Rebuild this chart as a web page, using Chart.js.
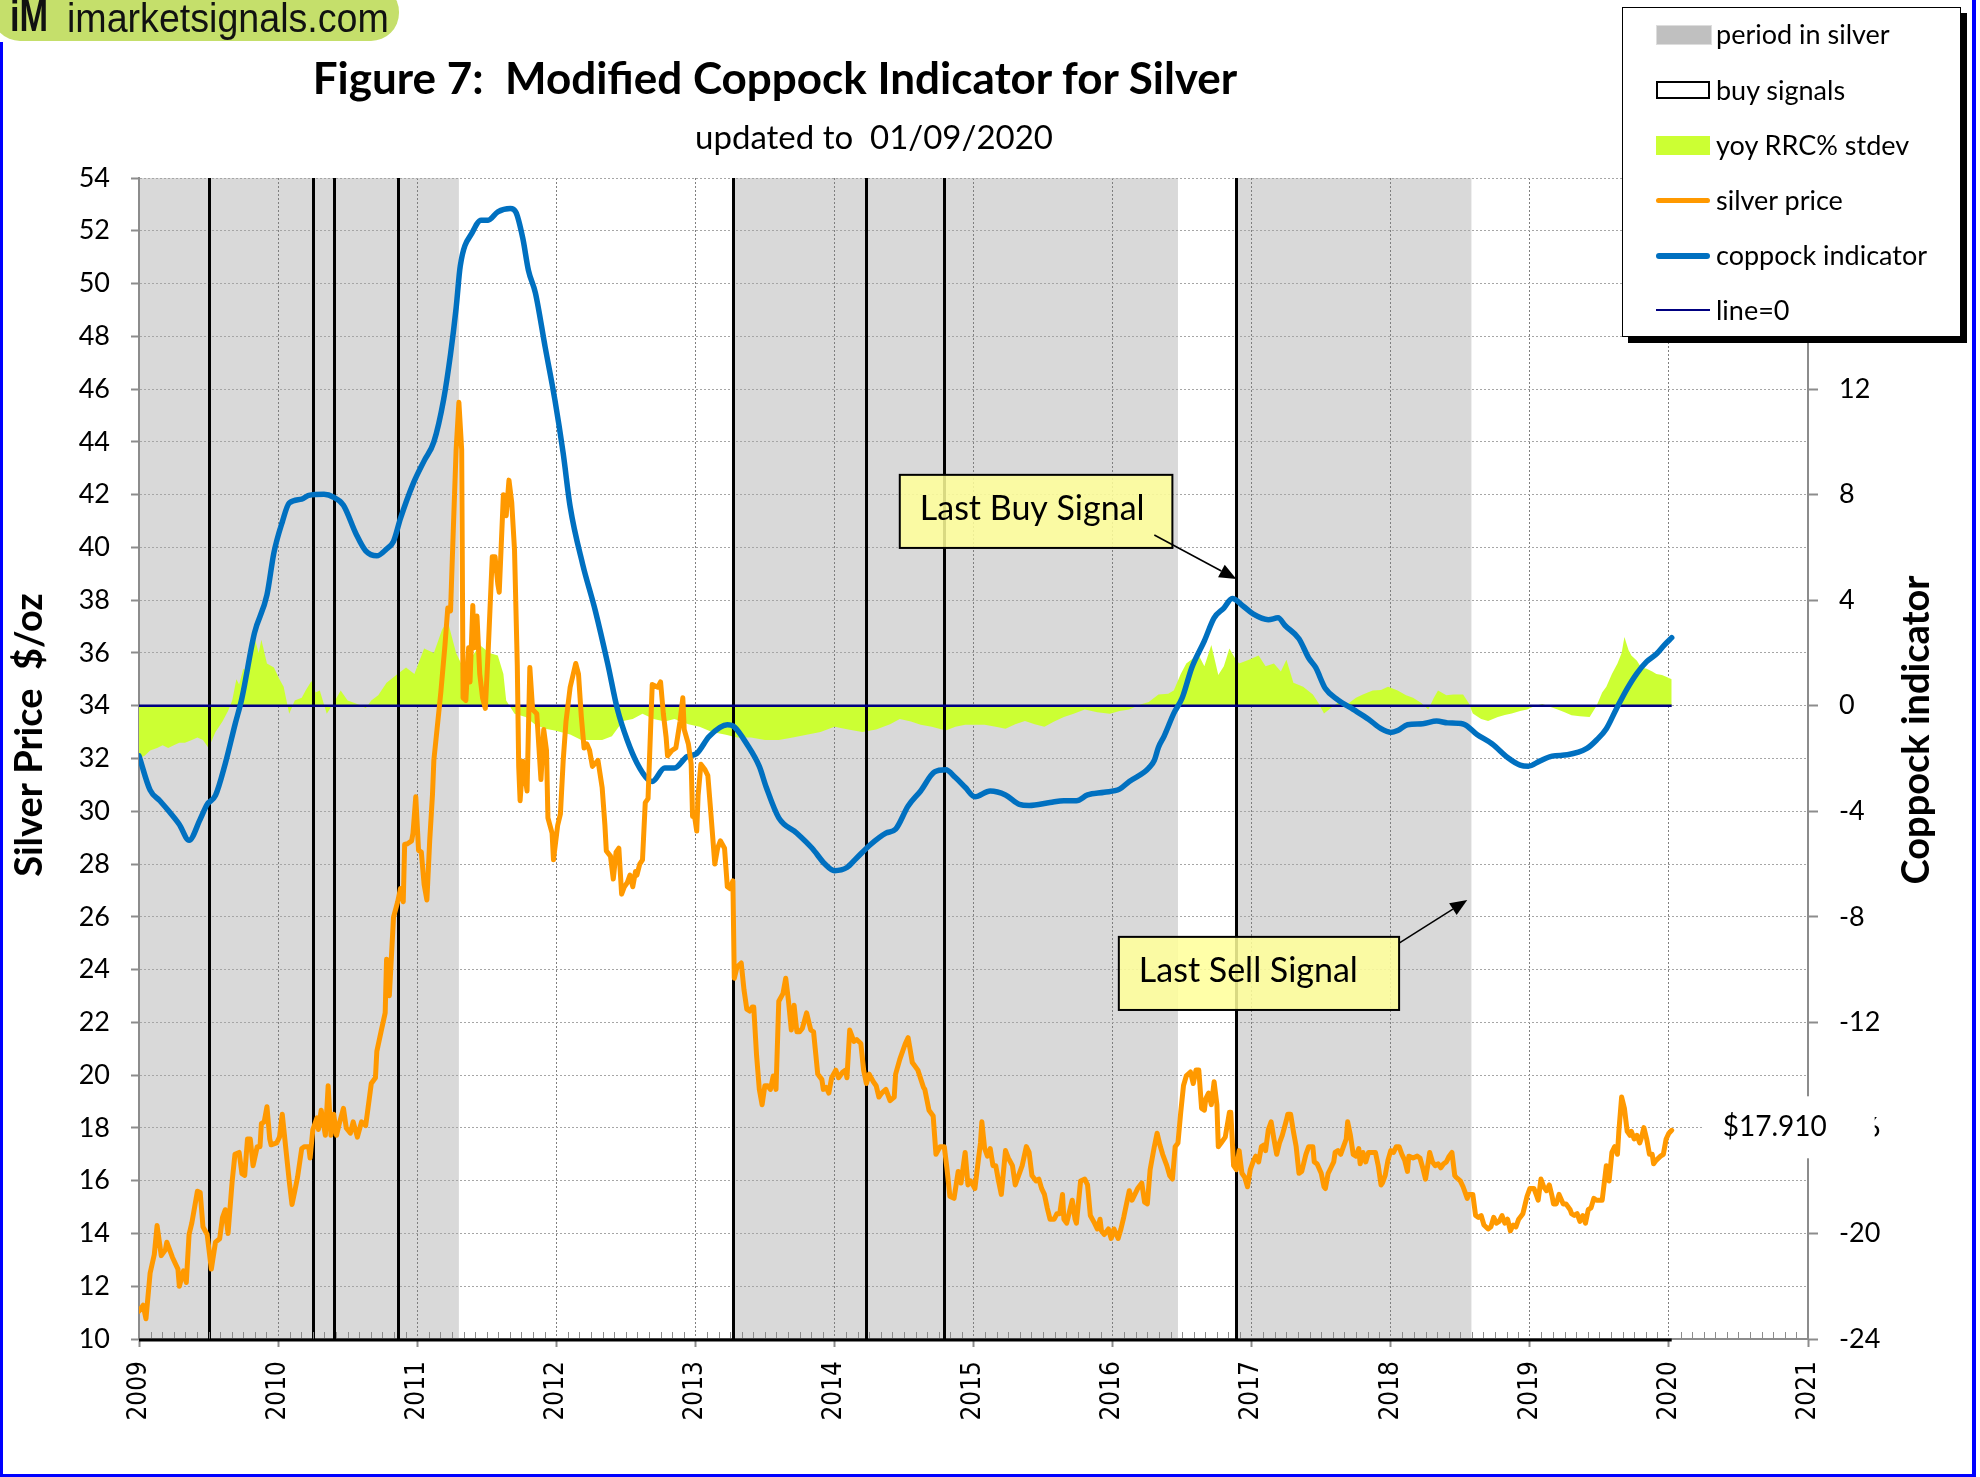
<!DOCTYPE html>
<html>
<head>
<meta charset="utf-8">
<title>Modified Coppock Indicator for Silver</title>
<script src="https://cdn.jsdelivr.net/npm/chart.js@4.4.1/dist/chart.umd.min.js"></script>
<style>
  body { margin: 0; background: #fff; }
  #wrap { position: relative; width: 1980px; height: 1477px; overflow: hidden; font-family: Lato, "Open Sans", sans-serif; }
  #c { position: absolute; left: 0; top: 0; }
  .edge { position: absolute; background: #0000ff; }
  #logo { position: absolute; left: -8px; top: -16px; width: 407px; height: 57px; border-radius: 28px; background: #c5df6b; }
  #logo span { position: absolute; top: 14px; line-height: 40px; font-size: 40px; font-family: "Liberation Sans", Arial, sans-serif; color: #111; transform-origin: left center; white-space: nowrap; }
  #title { position: absolute; left: 0; width: 1550px; top: 51px; text-align: center; font: bold 44px Lato, sans-serif; line-height: 1.2; white-space: pre; }
  #subtitle { position: absolute; left: 0; width: 1748px; top: 117px; text-align: center; font: 33px Lato, sans-serif; line-height: 1.2; white-space: pre; }
  #legend { position: absolute; left: 1622px; top: 7px; width: 337px; height: 328px; background: #fff; border: 1.5px solid #000; box-shadow: 6px 6px 0 #000; }
  #legend .item { position: absolute; left: 93px; height: 30px; line-height: 30px; font-size: 27px; white-space: nowrap; }
  #legend .sw { position: absolute; left: 33px; width: 54px; }
</style>
</head>
<body>
<div id="wrap">
  <canvas id="c" width="1980" height="1477"></canvas>
  <div id="logo"><span style="left:18px;top:12px;font-size:44px;font-weight:bold;transform:scaleX(0.78)">iM</span><span style="left:75px;transform:scaleX(0.94)">imarketsignals.com</span></div>
  <div id="title">Figure 7:  Modified Coppock Indicator for Silver</div>
  <div id="subtitle">updated to  01/09/2020</div>
  <div id="legend">
    <div class="sw" style="top:17px;height:18px;background:#c0c0c0;border:1px solid #ddd;"></div>
    <div class="item" style="top:11px">period in silver</div>
    <div class="sw" style="top:73px;height:14px;border:2px solid #000;width:50px;"></div>
    <div class="item" style="top:67px">buy signals</div>
    <div class="sw" style="top:128px;height:19px;background:#ccff33;"></div>
    <div class="item" style="top:122px">yoy RRC% stdev</div>
    <div class="sw" style="top:190px;height:5px;background:#ff9900;border-radius:3px;"></div>
    <div class="item" style="top:177px">silver price</div>
    <div class="sw" style="top:245px;height:6px;background:#0070c0;border-radius:3px;"></div>
    <div class="item" style="top:232px">coppock indicator</div>
    <div class="sw" style="top:301px;height:2px;background:#000080;"></div>
    <div class="item" style="top:287px">line=0</div>
  </div>
  <div class="edge" style="left:0;top:42px;width:3px;height:1435px"></div>
  <div class="edge" style="left:1972px;top:0;width:4px;height:1477px"></div>
  <div class="edge" style="left:0;top:1474px;width:1976px;height:3px"></div>
</div>
<script>
// shaded "period in silver" spans and buy signal dates (decimal years)
const silverPeriods = [[2009.00, 2011.30], [2013.27, 2016.47], [2016.89, 2018.58]];
const buySignals = [2009.50, 2010.25, 2010.40, 2010.86, 2013.27, 2014.23, 2014.79, 2016.89];

// silver price, $/oz  [year, price]
const silverPrice = [
  [2009.00,11.06],[2009.03,11.28],[2009.05,10.77],[2009.08,12.5],[2009.11,13.2],[2009.13,14.3],[2009.16,13.16],[2009.19,13.38],
  [2009.20,13.67],[2009.24,13.1],[2009.28,12.65],[2009.29,12.0],[2009.32,12.58],[2009.34,12.14],[2009.36,13.96],[2009.38,14.4],
  [2009.42,15.6],[2009.44,15.55],[2009.46,14.25],[2009.49,13.96],[2009.52,12.65],[2009.55,13.67],[2009.58,13.8],[2009.60,14.6],
  [2009.62,14.9],[2009.64,14.0],[2009.67,15.99],[2009.69,17.0],[2009.72,17.07],[2009.74,16.27],[2009.76,16.2],[2009.78,17.58],
  [2009.80,17.58],[2009.82,16.57],[2009.85,17.29],[2009.87,17.29],[2009.88,18.16],[2009.90,18.23],[2009.92,18.8],[2009.94,17.58],
  [2009.95,17.36],[2009.99,17.43],[2010.01,17.65],[2010.03,18.52],[2010.06,17.0],[2010.08,15.99],[2010.10,15.1],[2010.12,15.6],
  [2010.14,16.13],[2010.17,17.22],[2010.19,17.29],[2010.22,17.29],[2010.23,16.86],[2010.25,17.94],[2010.28,18.38],[2010.29,17.94],
  [2010.31,18.67],[2010.34,17.72],[2010.36,19.6],[2010.38,17.72],[2010.40,18.52],[2010.42,17.72],[2010.44,18.16],[2010.47,18.74],
  [2010.49,18.0],[2010.52,17.8],[2010.54,18.23],[2010.57,17.65],[2010.60,18.23],[2010.63,18.09],[2010.65,18.88],[2010.67,19.68],
  [2010.70,19.9],[2010.71,20.9],[2010.74,21.64],[2010.77,22.36],[2010.78,24.39],[2010.80,23.01],[2010.83,25.99],[2010.86,26.57],
  [2010.88,27.07],[2010.90,26.57],[2010.91,28.74],[2010.93,28.77],[2010.96,28.88],[2010.97,29.17],[2010.99,30.55],[2011.01,28.52],
  [2011.03,28.45],[2011.05,27.22],[2011.07,26.64],[2011.09,28.88],[2011.11,30.62],[2011.12,31.93],[2011.17,34.5],[2011.20,36.3],
  [2011.22,37.7],[2011.24,37.6],[2011.26,40.7],[2011.28,43.7],[2011.30,45.5],[2011.32,43.7],[2011.33,34.3],[2011.35,34.2],
  [2011.37,36.2],[2011.38,34.9],[2011.40,37.8],[2011.41,36.2],[2011.43,37.4],[2011.45,35.2],[2011.47,34.3],[2011.49,33.9],
  [2011.51,36.0],[2011.54,39.65],[2011.56,39.65],[2011.58,38.6],[2011.59,38.3],[2011.62,42.0],[2011.64,41.2],[2011.66,42.55],
  [2011.68,41.7],[2011.70,39.9],[2011.72,35.5],[2011.73,31.7],[2011.74,30.4],[2011.76,31.9],[2011.79,30.77],[2011.81,35.45],
  [2011.83,33.86],[2011.86,33.7],[2011.89,31.2],[2011.91,33.1],[2011.93,32.3],[2011.94,29.75],[2011.97,29.17],[2011.98,28.16],
  [2012.01,29.46],[2012.03,29.9],[2012.05,31.93],[2012.07,33.4],[2012.10,34.7],[2012.14,35.6],[2012.16,35.2],[2012.18,33.6],
  [2012.20,32.4],[2012.22,32.55],[2012.24,32.3],[2012.26,31.7],[2012.30,31.93],[2012.33,30.9],[2012.35,29.46],[2012.36,28.5],
  [2012.39,28.3],[2012.41,27.43],[2012.43,28.45],[2012.45,28.6],[2012.47,26.86],[2012.49,27.14],[2012.51,27.29],[2012.53,27.58],
  [2012.55,27.14],[2012.57,27.72],[2012.58,27.58],[2012.60,28.0],[2012.62,28.16],[2012.64,30.33],[2012.66,30.48],[2012.69,34.8],
  [2012.73,34.7],[2012.75,34.9],[2012.77,33.7],[2012.79,32.8],[2012.80,32.1],[2012.83,32.3],[2012.86,32.4],[2012.89,33.4],
  [2012.91,34.3],[2012.92,33.1],[2012.95,32.55],[2012.97,31.8],[2012.98,29.8],[2012.99,29.97],[2013.01,29.25],[2013.02,30.6],
  [2013.04,31.78],[2013.07,31.57],[2013.09,31.35],[2013.11,30.04],[2013.14,28.0],[2013.16,28.6],[2013.18,28.88],[2013.21,28.6],
  [2013.23,27.14],[2013.25,27.07],[2013.27,27.36],[2013.28,23.67],[2013.30,24.1],[2013.33,24.25],[2013.35,23.23],[2013.37,22.5],
  [2013.39,22.43],[2013.41,22.58],[2013.42,22.58],[2013.44,20.77],[2013.46,19.46],[2013.48,18.88],[2013.50,19.6],[2013.52,19.6],
  [2013.54,19.46],[2013.56,19.97],[2013.58,19.46],[2013.60,22.8],[2013.63,23.09],[2013.65,23.67],[2013.67,22.8],[2013.69,21.71],
  [2013.71,22.65],[2013.73,21.64],[2013.75,21.64],[2013.77,21.78],[2013.80,22.36],[2013.83,21.71],[2013.85,21.64],[2013.88,20.04],
  [2013.91,19.83],[2013.92,19.46],[2013.94,19.54],[2013.96,19.32],[2013.98,19.9],[2014.01,20.19],[2014.03,19.9],[2014.06,20.12],
  [2014.08,20.19],[2014.09,19.9],[2014.11,21.71],[2014.14,21.28],[2014.16,21.35],[2014.19,21.2],[2014.21,20.19],[2014.23,19.68],
  [2014.25,20.04],[2014.28,19.75],[2014.30,19.6],[2014.32,19.17],[2014.34,19.32],[2014.37,19.46],[2014.40,19.03],[2014.43,19.17],
  [2014.44,20.04],[2014.47,20.6],[2014.51,21.2],[2014.53,21.42],[2014.56,20.48],[2014.60,20.19],[2014.64,19.54],[2014.65,19.46],
  [2014.68,18.67],[2014.71,18.45],[2014.73,17.0],[2014.76,17.29],[2014.79,17.29],[2014.81,16.42],[2014.83,15.41],[2014.86,15.33],
  [2014.89,16.35],[2014.91,15.91],[2014.94,17.07],[2014.96,15.84],[2014.98,15.99],[2015.01,15.7],[2015.03,16.57],[2015.05,17.43],
  [2015.06,18.23],[2015.08,17.22],[2015.10,16.93],[2015.12,17.22],[2015.14,16.57],[2015.16,16.57],[2015.18,15.99],[2015.20,15.48],
  [2015.23,17.14],[2015.25,16.86],[2015.28,16.57],[2015.30,15.84],[2015.33,16.28],[2015.35,16.57],[2015.38,17.29],[2015.40,17.07],
  [2015.42,16.2],[2015.45,15.99],[2015.47,16.06],[2015.49,15.7],[2015.51,15.48],[2015.53,14.97],[2015.55,14.54],[2015.58,14.54],
  [2015.60,14.75],[2015.62,14.75],[2015.64,15.48],[2015.65,14.54],[2015.67,14.39],[2015.69,14.83],[2015.71,15.26],[2015.73,14.54],
  [2015.74,14.39],[2015.77,15.99],[2015.80,16.06],[2015.82,15.84],[2015.84,14.68],[2015.87,14.39],[2015.89,14.17],[2015.91,14.54],
  [2015.92,14.1],[2015.94,13.96],[2015.97,14.17],[2015.99,13.81],[2016.01,14.17],[2016.04,13.81],[2016.06,14.17],[2016.08,14.61],
  [2016.10,15.12],[2016.12,15.62],[2016.14,15.26],[2016.16,15.48],[2016.18,15.7],[2016.21,15.91],[2016.23,15.19],[2016.25,15.12],
  [2016.27,16.42],[2016.30,17.29],[2016.32,17.8],[2016.34,17.36],[2016.36,17.0],[2016.39,16.57],[2016.41,16.2],[2016.43,16.06],
  [2016.45,17.29],[2016.47,17.43],[2016.49,18.59],[2016.51,19.61],[2016.53,19.97],[2016.56,20.12],[2016.58,19.68],[2016.60,20.19],
  [2016.62,20.19],[2016.64,18.74],[2016.66,18.67],[2016.67,19.1],[2016.69,19.32],[2016.71,18.88],[2016.73,19.75],[2016.75,18.88],
  [2016.76,17.29],[2016.78,17.43],[2016.81,17.65],[2016.84,18.59],[2016.85,18.59],[2016.87,16.57],[2016.89,16.42],[2016.91,17.14],
  [2016.93,16.28],[2016.95,16.13],[2016.97,15.77],[2016.99,16.42],[2017.01,16.71],[2017.03,16.93],[2017.05,16.71],[2017.07,17.29],
  [2017.09,17.36],[2017.10,17.14],[2017.12,17.94],[2017.14,18.23],[2017.16,17.58],[2017.18,17.0],[2017.20,17.43],[2017.22,17.72],
  [2017.25,18.3],[2017.26,18.52],[2017.28,18.52],[2017.30,17.87],[2017.32,17.29],[2017.34,16.28],[2017.36,16.35],[2017.39,17.0],
  [2017.41,17.29],[2017.44,17.29],[2017.45,16.71],[2017.47,16.64],[2017.50,16.28],[2017.52,15.77],[2017.53,15.7],[2017.55,16.28],
  [2017.57,16.49],[2017.59,16.71],[2017.60,17.07],[2017.62,17.14],[2017.64,17.0],[2017.66,17.29],[2017.68,17.58],[2017.69,18.23],
  [2017.71,17.72],[2017.73,17.0],[2017.75,16.93],[2017.77,17.22],[2017.78,16.64],[2017.80,17.07],[2017.82,16.71],[2017.84,17.07],
  [2017.87,17.07],[2017.89,17.07],[2017.91,16.57],[2017.93,15.84],[2017.94,15.91],[2017.96,16.2],[2017.98,16.78],[2018.00,17.14],
  [2018.02,17.07],[2018.04,17.29],[2018.06,17.29],[2018.08,17.0],[2018.10,16.78],[2018.12,16.35],[2018.13,16.93],[2018.16,16.86],
  [2018.19,16.93],[2018.21,16.86],[2018.23,16.49],[2018.25,16.06],[2018.27,16.71],[2018.28,17.07],[2018.30,16.71],[2018.32,16.57],
  [2018.34,16.64],[2018.36,16.49],[2018.38,16.64],[2018.40,16.71],[2018.42,16.93],[2018.44,17.07],[2018.46,16.2],[2018.47,16.13],
  [2018.50,15.99],[2018.52,15.77],[2018.55,15.33],[2018.56,15.48],[2018.59,15.48],[2018.61,14.68],[2018.63,14.61],[2018.65,14.68],
  [2018.67,14.32],[2018.70,14.17],[2018.72,14.25],[2018.74,14.61],[2018.76,14.39],[2018.78,14.46],[2018.80,14.68],[2018.82,14.39],
  [2018.84,14.54],[2018.86,14.1],[2018.88,14.32],[2018.90,14.25],[2018.92,14.54],[2018.95,14.75],[2018.96,14.97],[2018.98,15.41],
  [2019.00,15.7],[2019.03,15.7],[2019.05,15.41],[2019.06,15.26],[2019.08,16.06],[2019.10,15.77],[2019.12,15.62],[2019.14,15.84],
  [2019.16,15.41],[2019.17,15.12],[2019.19,15.12],[2019.21,15.48],[2019.24,15.12],[2019.26,15.12],[2019.29,14.9],[2019.30,14.75],
  [2019.32,14.68],[2019.34,14.75],[2019.36,14.46],[2019.38,14.68],[2019.40,14.39],[2019.42,14.9],[2019.44,14.97],[2019.46,15.33],
  [2019.48,15.26],[2019.50,15.26],[2019.52,15.26],[2019.54,16.13],[2019.55,16.57],[2019.57,15.99],[2019.59,17.07],[2019.61,17.29],
  [2019.63,17.0],[2019.64,17.87],[2019.66,19.17],[2019.68,18.74],[2019.70,17.87],[2019.72,17.72],[2019.73,17.87],[2019.75,17.58],
  [2019.77,17.72],[2019.79,17.43],[2019.80,17.58],[2019.82,18.01],[2019.84,17.58],[2019.86,17.0],[2019.88,17.0],[2019.89,16.64],
  [2019.91,16.78],[2019.94,16.93],[2019.96,17.0],[2019.98,17.58],[2020.00,17.8],[2020.02,17.91]
];

// modified coppock indicator  [year, value]  (right axis)
const coppock = [
  [2009.00,-1.9],[2009.08,-3.2],[2009.15,-3.6],[2009.22,-4.03],[2009.29,-4.5],[2009.36,-5.1],[2009.44,-4.3],[2009.49,-3.74],
  [2009.55,-3.4],[2009.62,-2.2],[2009.69,-0.72],[2009.74,0.29],[2009.83,2.75],[2009.92,4.2],[2009.97,5.8],[2010.03,6.96],
  [2010.08,7.68],[2010.17,7.83],[2010.22,7.97],[2010.33,8.01],[2010.40,7.9],[2010.47,7.6],[2010.56,6.52],[2010.63,5.87],
  [2010.71,5.68],[2010.78,5.94],[2010.83,6.23],[2010.88,7.1],[2010.97,8.4],[2011.05,9.28],[2011.12,10.0],[2011.19,11.6],
  [2011.24,13.33],[2011.28,15.07],[2011.31,16.67],[2011.40,17.97],[2011.46,18.4],[2011.51,18.4],[2011.58,18.72],[2011.67,18.84],
  [2011.71,18.7],[2011.76,17.7],[2011.80,16.5],[2011.85,15.65],[2011.92,13.6],[2011.99,11.6],[2012.05,9.56],[2012.10,7.54],
  [2012.19,5.36],[2012.28,3.62],[2012.37,1.59],[2012.44,-0.14],[2012.51,-1.3],[2012.58,-2.17],[2012.66,-2.8],[2012.69,-2.87],
  [2012.78,-2.36],[2012.85,-2.36],[2012.94,-1.93],[2013.01,-1.81],[2013.10,-1.16],[2013.23,-0.72],[2013.28,-0.8],[2013.37,-1.45],
  [2013.46,-2.3],[2013.51,-3.09],[2013.60,-4.25],[2013.73,-4.83],[2013.84,-5.4],[2013.93,-5.99],[2014.00,-6.25],[2014.09,-6.13],
  [2014.16,-5.77],[2014.26,-5.26],[2014.37,-4.83],[2014.44,-4.68],[2014.53,-3.8],[2014.62,-3.23],[2014.72,-2.51],[2014.80,-2.43],
  [2014.87,-2.72],[2014.94,-3.09],[2015.01,-3.45],[2015.12,-3.23],[2015.23,-3.38],[2015.33,-3.74],[2015.40,-3.78],[2015.55,-3.67],
  [2015.65,-3.6],[2015.74,-3.6],[2015.82,-3.38],[2015.94,-3.28],[2016.05,-3.16],[2016.12,-2.87],[2016.23,-2.51],[2016.26,-2.36],
  [2016.30,-2.07],[2016.33,-1.57],[2016.37,-1.16],[2016.44,-0.29],[2016.50,0.29],[2016.57,1.45],[2016.66,2.46],[2016.73,3.33],
  [2016.80,3.7],[2016.86,4.06],[2016.94,3.77],[2017.01,3.48],[2017.12,3.26],[2017.19,3.33],[2017.24,3.04],[2017.34,2.54],
  [2017.41,1.81],[2017.46,1.45],[2017.53,0.65],[2017.62,0.22],[2017.73,-0.14],[2017.84,-0.51],[2017.93,-0.87],[2018.00,-1.01],
  [2018.05,-0.94],[2018.12,-0.72],[2018.23,-0.68],[2018.33,-0.58],[2018.41,-0.65],[2018.52,-0.69],[2018.62,-1.09],[2018.73,-1.45],
  [2018.84,-1.96],[2018.93,-2.25],[2018.99,-2.29],[2019.07,-2.1],[2019.16,-1.91],[2019.27,-1.86],[2019.41,-1.62],[2019.48,-1.3],
  [2019.55,-0.87],[2019.62,-0.14],[2019.70,0.65],[2019.77,1.23],[2019.84,1.67],[2019.91,1.96],[2019.97,2.32],[2020.02,2.58]
];

// yoy RRC% stdev  [year, value]  (right axis)
const rrcStdev = [
  [2009.00,-2.0],[2009.04,-1.9],[2009.08,-1.7],[2009.13,-1.6],[2009.17,-1.5],[2009.21,-1.6],[2009.25,-1.5],[2009.29,-1.4],
  [2009.33,-1.4],[2009.38,-1.3],[2009.42,-1.2],[2009.46,-1.3],[2009.50,-1.6],[2009.55,-1.0],[2009.60,-0.6],[2009.64,-0.2],
  [2009.67,0.2],[2009.70,1.0],[2009.72,0.8],[2009.75,1.4],[2009.78,1.3],[2009.81,2.2],[2009.83,2.6],[2009.86,2.0],
  [2009.88,2.5],[2009.92,1.6],[2009.97,1.45],[2010.01,1.0],[2010.04,0.72],[2010.08,-0.3],[2010.12,0.2],[2010.17,0.3],
  [2010.20,0.6],[2010.24,0.94],[2010.27,0.5],[2010.30,0.58],[2010.35,-0.3],[2010.40,0.1],[2010.45,0.58],[2010.50,0.2],
  [2010.55,0.1],[2010.60,0.0],[2010.63,-0.1],[2010.67,0.2],[2010.72,0.4],[2010.78,0.87],[2010.85,1.16],[2010.92,1.45],
  [2010.98,1.2],[2011.05,2.17],[2011.12,2.0],[2011.18,2.9],[2011.22,3.2],[2011.28,2.0],[2011.33,1.45],[2011.40,1.9],
  [2011.45,2.3],[2011.52,2.0],[2011.58,1.9],[2011.62,1.2],[2011.64,0.2],[2011.70,-0.3],[2011.78,-0.43],[2011.85,-0.72],
  [2011.92,-0.87],[2011.99,-0.94],[2012.10,-1.09],[2012.18,-1.3],[2012.25,-1.3],[2012.33,-1.3],[2012.40,-1.16],[2012.48,-0.58],
  [2012.55,-0.5],[2012.62,-0.3],[2012.70,-0.5],[2012.78,-0.6],[2012.85,-0.5],[2012.95,-0.7],[2013.03,-0.8],[2013.12,-1.0],
  [2013.22,-1.1],[2013.30,-1.2],[2013.40,-1.2],[2013.50,-1.3],[2013.60,-1.3],[2013.70,-1.2],[2013.80,-1.1],[2013.90,-1.0],
  [2014.00,-0.8],[2014.10,-0.9],[2014.20,-1.0],[2014.30,-0.9],[2014.40,-0.7],[2014.47,-0.5],[2014.55,-0.6],[2014.62,-0.72],
  [2014.70,-0.8],[2014.80,-0.94],[2014.87,-0.8],[2014.94,-0.72],[2015.08,-0.72],[2015.16,-0.8],[2015.23,-0.87],[2015.30,-0.7],
  [2015.37,-0.58],[2015.44,-0.7],[2015.51,-0.8],[2015.58,-0.6],[2015.65,-0.43],[2015.72,-0.3],[2015.80,-0.14],[2015.89,-0.25],
  [2015.98,-0.3],[2016.05,-0.2],[2016.12,-0.14],[2016.20,0.05],[2016.26,0.14],[2016.33,0.43],[2016.40,0.45],[2016.44,0.58],
  [2016.49,1.2],[2016.53,1.6],[2016.58,1.8],[2016.62,1.9],[2016.66,1.5],[2016.71,2.3],[2016.76,1.16],[2016.80,1.5],
  [2016.84,2.17],[2016.88,1.8],[2016.91,1.6],[2016.98,1.74],[2017.05,1.9],[2017.10,1.5],[2017.16,1.6],[2017.21,1.3],
  [2017.25,1.74],[2017.30,0.87],[2017.37,0.72],[2017.44,0.43],[2017.48,0.1],[2017.52,-0.29],[2017.59,0.0],[2017.64,0.2],
  [2017.69,0.07],[2017.75,0.3],[2017.80,0.43],[2017.87,0.58],[2017.93,0.6],[2017.98,0.72],[2018.05,0.58],[2018.11,0.4],
  [2018.16,0.3],[2018.22,0.1],[2018.27,-0.14],[2018.31,0.3],[2018.34,0.58],[2018.40,0.4],[2018.45,0.43],[2018.52,0.43],
  [2018.56,0.1],[2018.59,-0.29],[2018.65,-0.5],[2018.70,-0.58],[2018.77,-0.43],[2018.82,-0.35],[2018.87,-0.29],[2018.93,-0.2],
  [2018.98,-0.14],[2019.04,0.0],[2019.09,0.07],[2019.15,-0.05],[2019.20,-0.14],[2019.25,-0.25],[2019.30,-0.36],[2019.36,-0.4],
  [2019.43,-0.43],[2019.48,0.0],[2019.52,0.5],[2019.55,0.72],[2019.59,1.2],[2019.63,1.6],[2019.66,2.0],[2019.68,2.6],
  [2019.71,2.1],[2019.73,1.9],[2019.77,1.7],[2019.80,1.45],[2019.84,1.4],[2019.88,1.3],[2019.91,1.2],[2019.95,1.16],
  [2019.98,1.1],[2020.02,1.0]
];

const zeroLine = [[2009.00, 0], [2020.02, 0]];

// call-out boxes, in chart units: box = [x0, yTop, x1, yBottom] on the price axis
const callouts = [
  { text: 'Last Buy Signal', box: [2014.47, 42.75, 2016.43, 39.98], from: [2016.30, 40.47], to: [2016.89, 38.8] },
  { text: 'Last Sell Signal', box: [2016.045, 25.24, 2018.06, 22.47], from: [2018.06, 25.0], to: [2018.55, 26.64] }
];

function pts(arr) {
  return arr.map(function (p) { return { x: p[0], y: p[1] }; });
}

function arrow(ctx, x0, y0, x1, y1) {
  var ang = Math.atan2(y1 - y0, x1 - x0);
  var len = 17, half = 7;
  ctx.beginPath();
  ctx.moveTo(x0, y0);
  ctx.lineTo(x1 - Math.cos(ang) * len, y1 - Math.sin(ang) * len);
  ctx.stroke();
  ctx.beginPath();
  ctx.moveTo(x1, y1);
  ctx.lineTo(x1 - Math.cos(ang) * len - Math.sin(ang) * half, y1 - Math.sin(ang) * len + Math.cos(ang) * half);
  ctx.lineTo(x1 - Math.cos(ang) * len + Math.sin(ang) * half, y1 - Math.sin(ang) * len - Math.cos(ang) * half);
  ctx.closePath();
  ctx.fill();
}

function axisTitle(ctx, text, cx, cy) {
  ctx.save();
  ctx.translate(cx, cy);
  ctx.rotate(-Math.PI / 2);
  ctx.font = 'bold 38px Lato';
  ctx.fillStyle = '#000';
  ctx.textAlign = 'center';
  ctx.textBaseline = 'middle';
  ctx.fillText(text, 0, 0);
  ctx.restore();
}

const extras = {
  id: 'extras',
  beforeDraw: function (chart) {
    var ctx = chart.ctx, a = chart.chartArea, x = chart.scales.x;
    ctx.save();
    ctx.fillStyle = '#d9d9d9';
    silverPeriods.forEach(function (p) {
      var x0 = x.getPixelForValue(p[0]), x1 = x.getPixelForValue(p[1]);
      ctx.fillRect(x0, a.top, x1 - x0, a.bottom - a.top);
    });
    ctx.restore();
  },
  afterDatasetDraw: function (chart, args) {
    if (args.index !== 0) return;
    var ctx = chart.ctx, a = chart.chartArea, x = chart.scales.x;
    ctx.save();
    ctx.strokeStyle = '#000';
    ctx.lineWidth = 3;
    buySignals.forEach(function (d) {
      var px = Math.round(x.getPixelForValue(d)) + 0.5;
      ctx.beginPath();
      ctx.moveTo(px, a.top);
      ctx.lineTo(px, a.bottom);
      ctx.stroke();
    });
    ctx.restore();
  },
  afterDatasetsDraw: function (chart) {
    var ctx = chart.ctx, a = chart.chartArea, x = chart.scales.x, y = chart.scales.yL;
    ctx.save();
    // monthly minor ticks along the bottom
    ctx.strokeStyle = '#8c8c8c';
    ctx.lineWidth = 1;
    for (var m = 1; m < 144; m++) {
      if (m % 12 === 0) continue;
      var mx = Math.round(x.getPixelForValue(2009 + m / 12)) + 0.5;
      ctx.beginPath();
      ctx.moveTo(mx, a.bottom);
      ctx.lineTo(mx, a.bottom - 7);
      ctx.stroke();
    }
    // dark baseline under the data span
    var last = silverPrice[silverPrice.length - 1];
    ctx.strokeStyle = '#000';
    ctx.lineWidth = 3;
    ctx.beginPath();
    ctx.moveTo(x.getPixelForValue(2009), a.bottom + 1);
    ctx.lineTo(x.getPixelForValue(last[0]), a.bottom + 1);
    ctx.stroke();
    // call-outs
    callouts.forEach(function (c) {
      var bx0 = x.getPixelForValue(c.box[0]), by0 = y.getPixelForValue(c.box[1]);
      var bx1 = x.getPixelForValue(c.box[2]), by1 = y.getPixelForValue(c.box[3]);
      ctx.fillStyle = 'rgba(255,255,153,0.85)';
      ctx.fillRect(bx0, by0, bx1 - bx0, by1 - by0);
      ctx.strokeStyle = '#000';
      ctx.lineWidth = 2;
      ctx.strokeRect(bx0, by0, bx1 - bx0, by1 - by0);
      ctx.fillStyle = '#000';
      ctx.font = '34px Lato';
      ctx.textAlign = 'left';
      ctx.textBaseline = 'middle';
      ctx.fillText(c.text, bx0 + 20, (by0 + by1) / 2 - 2);
      ctx.lineWidth = 1.5;
      arrow(ctx, x.getPixelForValue(c.from[0]), y.getPixelForValue(c.from[1]),
        x.getPixelForValue(c.to[0]), y.getPixelForValue(c.to[1]));
    });
    ctx.restore();
  },
  afterDraw: function (chart) {
    var ctx = chart.ctx, x = chart.scales.x, y = chart.scales.yL;
    var last = silverPrice[silverPrice.length - 1];
    var lx = x.getPixelForValue(last[0]) + 51;
    var ly = y.getPixelForValue(last[1]);
    ctx.save();
    ctx.fillStyle = '#fff';
    ctx.fillRect(lx - 20, ly - 34, 172, 62);
    ctx.fillStyle = '#000';
    ctx.font = '28px Lato';
    ctx.textAlign = 'left';
    ctx.textBaseline = 'middle';
    ctx.fillText('$' + last[1].toFixed(3), lx, ly - 3);
    ctx.restore();
    axisTitle(ctx, 'Silver Price  $/oz', 30, 735);
    axisTitle(ctx, 'Coppock indicator', chart.width - 63, 730);
  }
};

Chart.defaults.font.family = 'Lato';
Chart.defaults.color = '#000';

new Chart(document.getElementById('c'), {
  type: 'line',
  data: {
    datasets: [
      {
        label: 'yoy RRC% stdev',
        data: pts(rrcStdev),
        yAxisID: 'yR',
        fill: 'origin',
        backgroundColor: '#ccff33',
        borderWidth: 0,
        borderColor: 'rgba(0,0,0,0)',
        pointRadius: 0,
        order: 4
      },
      {
        label: 'line=0',
        data: pts(zeroLine),
        yAxisID: 'yR',
        borderColor: '#000080',
        borderWidth: 2.5,
        pointRadius: 0,
        order: 3
      },
      {
        label: 'coppock indicator',
        data: pts(coppock),
        yAxisID: 'yR',
        borderColor: '#0070c0',
        borderWidth: 5.5,
        cubicInterpolationMode: 'monotone',
        borderCapStyle: 'round',
        pointRadius: 0,
        order: 2
      },
      {
        label: 'silver price',
        data: pts(silverPrice),
        yAxisID: 'yL',
        borderColor: '#ff9900',
        borderWidth: 5,
        borderJoinStyle: 'round',
        borderCapStyle: 'round',
        tension: 0,
        pointRadius: 0,
        order: 1
      }
    ]
  },
  options: {
    responsive: false,
    devicePixelRatio: 1,
    animation: false,
    parsing: false,
    layout: { padding: { top: 178, left: 0, right: 0, bottom: 0 } },
    plugins: { legend: { display: false }, tooltip: { enabled: false } },
    scales: {
      x: {
        type: 'linear',
        min: 2009,
        max: 2021,
        afterFit: function (s) { s.height = 138; },
        ticks: {
          stepSize: 1,
          autoSkip: false,
          minRotation: 90,
          maxRotation: 90,
          padding: 14,
          font: { family: '"DejaVu Sans Condensed", "DejaVu Sans"', size: 26 },
          callback: function (v) { return String(v); }
        },
        grid: { color: '#7f7f7f', lineWidth: 1, tickLength: 8, tickColor: '#8c8c8c', tickWidth: 2 },
        border: { color: '#8c8c8c', width: 2, dash: [2, 2] }
      },
      yL: {
        position: 'left',
        min: 10,
        max: 54,
        afterFit: function (s) { s.width = 139; },
        ticks: { stepSize: 2, padding: 21, font: { size: 27 } },
        grid: { color: '#a6a6a6', lineWidth: 1, tickLength: 8, tickColor: '#8c8c8c', tickWidth: 2 },
        border: { color: '#8c8c8c', width: 2, dash: [2, 2] }
      },
      yR: {
        position: 'right',
        min: -24,
        max: 20,
        afterFit: function (s) { s.width = 172; },
        ticks: { stepSize: 4, padding: 21, font: { size: 27 } },
        grid: { drawOnChartArea: false, tickLength: 10, tickColor: '#8c8c8c', tickWidth: 2 },
        border: { color: '#8c8c8c', width: 2 }
      }
    }
  },
  plugins: [extras]
});
</script>
</body>
</html>
